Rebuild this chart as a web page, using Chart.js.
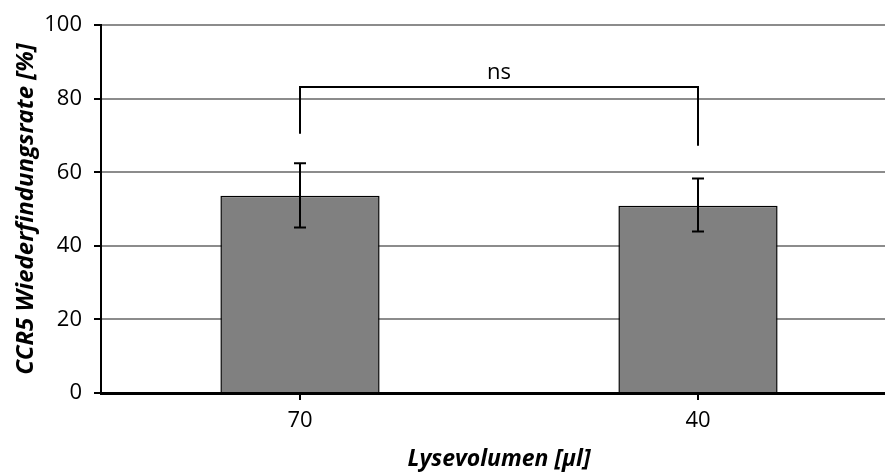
<!DOCTYPE html>
<html>
<head>
<meta charset="utf-8">
<script src="https://cdn.jsdelivr.net/npm/chart.js@4.4.1/dist/chart.umd.min.js"></script>
<style>
  html, body { margin: 0; padding: 0; background: #fff; overflow: hidden; }
  #wrap { width: 897px; height: 473px; }
</style>
</head>
<body>
<div id="wrap"><canvas id="recoveryChart" width="897" height="473"></canvas></div>
<script>
// ------------------- DATA -------------------
const categories = ["70", "40"];
const recovery = [53.6, 50.9];
const errLow = [45.0, 43.9];
const errHigh = [62.5, 58.3];

// significance bracket between the two bars
const bracketY = 83.2;
const bracketLegEnds = [70.5, 67.2];
const bracketLabel = "ns";

const yTicks = [0, 20, 40, 60, 80, 100];

const tickFont = { family: "Open Sans", size: 22 };
const xTitleFont = { family: "Open Sans", size: 23, weight: "bold", style: "italic" };
const yTitleFont = { family: "Open Sans", size: 24, weight: "bold", style: "italic" };

// ------------------- ERROR BARS + BRACKET -------------------
const extrasPlugin = {
  id: "extras",
  afterDatasetsDraw(chart) {
    const { ctx, scales: { x, y } } = chart;
    ctx.save();
    ctx.strokeStyle = "#000";
    ctx.lineWidth = 2;

    // error bars
    categories.forEach((c, i) => {
      const px = x.getPixelForValue(i);
      const top = y.getPixelForValue(errHigh[i]);
      const bot = y.getPixelForValue(errLow[i]);
      ctx.beginPath();
      ctx.moveTo(px, top);
      ctx.lineTo(px, bot);
      ctx.moveTo(px - 6, top);
      ctx.lineTo(px + 6, top);
      ctx.moveTo(px - 6, bot);
      ctx.lineTo(px + 6, bot);
      ctx.stroke();
    });

    // bracket
    const x0 = x.getPixelForValue(0);
    const x1 = x.getPixelForValue(1);
    const by = y.getPixelForValue(bracketY);
    ctx.beginPath();
    ctx.moveTo(x0, y.getPixelForValue(bracketLegEnds[0]));
    ctx.lineTo(x0, by);
    ctx.lineTo(x1, by);
    ctx.lineTo(x1, y.getPixelForValue(bracketLegEnds[1]));
    ctx.stroke();

    ctx.fillStyle = "#000";
    ctx.font = "22px 'Open Sans'";
    ctx.textAlign = "center";
    ctx.textBaseline = "bottom";
    ctx.fillText(bracketLabel, (x0 + x1) / 2, by - 3);
    ctx.restore();
  }
};

// ------------------- CHART -------------------
const ctx = document.getElementById("recoveryChart").getContext("2d");

const recoveryChart = new Chart(ctx, {
  type: "bar",
  data: {
    labels: categories,
    datasets: [
      {
        data: recovery,
        backgroundColor: "#808080",
        borderColor: "#000",
        borderWidth: 1.5,
        barPercentage: 0.4,
        categoryPercentage: 1.0
      }
    ]
  },
  options: {
    responsive: false,
    animation: false,
    layout: { padding: { top: 24, right: 0, left: 0, bottom: 0 } },
    plugins: {
      legend: { display: false },
      tooltip: { enabled: false }
    },
    scales: {
      x: {
        grid: {
          drawOnChartArea: false,
          offset: false,
          tickColor: "#000",
          tickLength: 7,
          lineWidth: 2
        },
        border: { color: "#000", width: 3 },
        ticks: { color: "#000", font: tickFont, padding: 8 },
        title: {
          display: true,
          text: "Lysevolumen [µl]",
          color: "#000",
          font: xTitleFont,
          padding: { top: 0, bottom: 0 }
        },
        afterFit(scale) { scale.height = 80; }
      },
      y: {
        min: 0,
        max: 100,
        afterBuildTicks(scale) { scale.ticks = yTicks.map(v => ({ value: v })); },
        grid: {
          color: "#8c8c8c",
          lineWidth: 2,
          tickColor: "#000",
          tickLength: 7
        },
        border: { color: "#000", width: 2 },
        ticks: { color: "#000", font: tickFont, padding: 12 },
        title: {
          display: true,
          text: "CCR5 Wiederfindungsrate [%]",
          color: "#000",
          font: yTitleFont,
          padding: { top: 12, bottom: 0 }
        },
        afterFit(scale) { scale.width = 101; }
      }
    }
  },
  plugins: [extrasPlugin]
});
</script>
</body>
</html>
